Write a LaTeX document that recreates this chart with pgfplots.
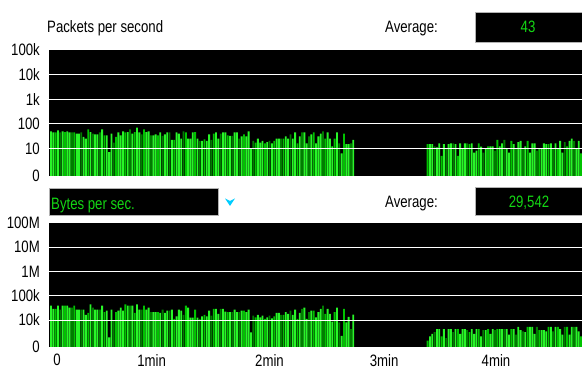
\documentclass[border=0pt]{standalone}
\usepackage{pgfplots}
\pgfplotsset{compat=1.18}
\usepackage{pgfplotstable}
\usepackage{fontspec}
\setmainfont{Liberation Sans}[FakeStretch=0.8]
\definecolor{gA}{RGB}{40,245,40}
\definecolor{gB}{RGB}{0,195,0}
\definecolor{gC}{RGB}{0,125,0}
\definecolor{txtg}{RGB}{20,215,20}
\definecolor{arrowc}{RGB}{0,205,255}
\newcommand{\lbl}{\fontsize{16.5}{18}\selectfont}
\pgfplotstableread{
i p b s
0 49 39600 1
1 45 28700 1
2 45 28700 2
3 54 39600 1
4 45 26900 3
5 49 39600 1
6 46 39600 2
7 49 39600 1
8 45 32600 1
9 45 32600 3
10 45 39600 2
11 40 26900 1
12 40 26900 1
13 45 26900 3
14 29 26900 1
15 25 16200 1
16 59 19600 2
17 46 43600 1
18 40 32600 3
19 37 26900 1
20 37 26900 1
21 45 26900 3
22 59 39600 1
23 34 20900 2
24 34 24500 1
25 7 1900 1
26 40 26900 1
27 17 9400 3
28 29 20900 2
29 45 24500 1
30 34 32600 1
31 49 24500 1
32 45 43600 2
33 46 39600 1
34 59 39600 3
35 40 39600 1
36 46 19600 2
37 69 43600 1
38 45 26900 1
39 37 26900 3
40 59 39600 2
41 46 26900 1
42 49 32600 1
43 34 20900 3
44 34 20900 1
45 37 20900 1
46 34 20900 2
47 45 19600 1
48 32 26900 3
49 37 19600 1
50 45 24500 1
51 45 24500 3
52 22 26900 1
53 22 11000 2
54 45 14200 1
55 40 26900 1
56 25 24500 1
57 49 16200 3
58 45 39600 2
59 25 32600 1
60 25 12500 1
61 45 12500 1
62 46 26900 2
63 25 12500 1
64 20 11000 3
65 20 14200 1
66 23 16200 2
67 20 14200 1
68 37 24500 1
69 22 15200 3
70 40 28700 2
71 45 28700 1
72 25 17800 1
73 40 28700 3
74 45 28700 1
75 45 22300 1
76 34 20900 2
77 32 20900 1
78 32 20900 3
79 45 26900 1
80 45 20900 1
81 25 20900 3
82 31 24500 1
83 37 24500 2
84 31 20900 1
85 49 26900 1
86 10 3060 1
87 20 15200 3
88 17 12900 2
89 25 16200 1
90 17 12900 1
91 20 15200 1
92 16 11000 2
93 18 12900 1
94 20 15200 3
95 16 11700 1
96 20 14200 2
97 25 19600 1
98 25 19600 1
99 25 16200 3
100 25 16200 2
101 31 20900 1
102 25 17800 1
103 37 24500 3
104 25 16200 1
105 45 26900 1
106 16 11000 2
107 31 19600 1
108 45 28700 3
109 45 32600 1
110 16 11000 1
111 31 20900 3
112 37 24500 1
113 45 24500 2
114 16 12900 1
115 31 20900 1
116 40 28700 1
117 49 39600 3
118 25 17800 2
119 45 28700 1
120 25 17800 1
121 12 8500 1
122 25 20900 2
123 45 32600 1
124 16 8000 3
125 6.3 2220 1
126 40 28700 2
127 15 8000 1
128 15 13300 1
129 16 4200 3
130 22 16800 1
162 15 1400 2
163 15 2100 1
164 15 2650 1
165 12 3200 3
166 11 4250 1
167 16 4250 1
168 4.9 2100 2
169 15 4250 1
170 10 1800 3
171 15 4250 1
172 16 4250 1
173 16 3200 3
174 15 4250 1
175 4.9 4250 2
176 16 2650 1
177 10 4250 1
178 16 4250 1
179 16 3850 3
180 15 3200 2
181 16 4250 1
182 6.7 2650 1
183 8.1 4250 1
184 16 4250 2
185 11.7 2100 1
186 6.7 3850 3
187 10 3850 1
188 12 4250 2
189 12 2650 1
190 12 4250 1
191 8.1 3850 3
192 22 4250 2
193 12 4250 1
194 16 4250 1
195 22 4250 3
196 10 4250 1
197 6.7 2500 1
198 20 4250 2
199 15 4250 1
200 10 2500 3
201 18 5200 1
202 20 3850 1
203 10 3400 3
204 12 3200 1
205 20 5200 2
206 6.7 5200 1
207 16 5200 1
208 16 2650 1
209 8.1 5200 3
210 10 3850 2
211 10 3850 1
212 16 3850 1
213 15 3400 1
214 15 5200 2
215 16 5200 1
216 10 3400 3
217 16 5200 1
218 10 5200 2
219 20 4250 1
220 6.7 2500 1
221 18 5200 3
222 12 5200 2
223 20 2500 1
224 25 5200 1
225 20 5200 3
226 10 5200 1
227 20 3400 1
228 6.3 2100 2
}\data
\begin{document}
\begin{tikzpicture}[x=1pt,y=1pt]
\useasboundingbox (0,0) rectangle (582,369);
% top panel
\begin{axis}[
  ymode=log,
  scale only axis, width=533pt, height=126pt,
  at={(49pt,193pt)}, anchor=south west,
  xmin=-0.86, xmax=228.4,
  ymin=0.75, ymax=1e5,
  axis background/.style={fill=black},
  axis line style={draw=none},
  tick style={draw=none},
  major grid style={white, line width=0.9pt},
  axis on top,
  log origin=infty,
  yticklabel style={font=\lbl, inner sep=0pt, xshift=-9pt},
  xtick=\empty,
  ytick={0.75,10,100,1000,10000,100000},
  yticklabels={0,10,100,1k,10k,100k},
  extra y ticks={10,100,1000,10000},
  extra y tick labels={,,,},
  extra y tick style={grid=major},
]
\addplot[ybar, bar width=0.8, bar shift=0pt, fill=gA, draw=none, restrict expr to domain={\thisrow{s}}{1:1}] table[x=i, y=p] {\data};
\addplot[ybar, bar width=0.8, bar shift=0pt, fill=gB, draw=none, restrict expr to domain={\thisrow{s}}{2:2}] table[x=i, y=p] {\data};
\addplot[ybar, bar width=0.8, bar shift=0pt, fill=gC, draw=none, restrict expr to domain={\thisrow{s}}{3:3}] table[x=i, y=p] {\data};
\end{axis}
% bottom panel
\begin{axis}[
  ymode=log,
  scale only axis, width=533pt, height=124pt,
  at={(49pt,22pt)}, anchor=south west,
  xmin=-0.86, xmax=228.4,
  ymin=771, ymax=1e8,
  axis background/.style={fill=black},
  axis line style={draw=none},
  tick style={draw=none},
  major grid style={white, line width=0.9pt},
  axis on top,
  log origin=infty,
  yticklabel style={font=\lbl, inner sep=0pt, xshift=-9pt},
  xticklabel style={font=\lbl, inner sep=0pt, yshift=-7pt},
  ytick={771,1e4,1e5,1e6,1e7,1e8},
  yticklabels={0,10k,100k,1M,10M,100M},
  extra y ticks={1e4,1e5,1e6,1e7},
  extra y tick labels={,,,},
  extra y tick style={grid=major},
  xtick={2.6,43.3,94,143.3,191.4},
  xticklabels={0,1min,2min,3min,4min},
]
\addplot[ybar, bar width=0.8, bar shift=0pt, fill=gA, draw=none, restrict expr to domain={\thisrow{s}}{1:1}] table[x=i, y=b] {\data};
\addplot[ybar, bar width=0.8, bar shift=0pt, fill=gB, draw=none, restrict expr to domain={\thisrow{s}}{2:2}] table[x=i, y=b] {\data};
\addplot[ybar, bar width=0.8, bar shift=0pt, fill=gC, draw=none, restrict expr to domain={\thisrow{s}}{3:3}] table[x=i, y=b] {\data};
\end{axis}
% header texts
\node[anchor=base west, inner sep=0pt, font=\lbl] at (47,336) {Packets per second};
\node[anchor=base west, inner sep=0pt, font=\lbl] at (385,336) {Average:};
\draw[gray!60, fill=black, line width=0.8pt] (475,327) rectangle (586,357);
\node[anchor=base, inner sep=0pt, font=\lbl, text=txtg] at (528,336) {43};
\draw[gray!60, fill=black, line width=0.8pt] (49,154) rectangle (218,181);
\node[anchor=base west, inner sep=0pt, font=\lbl, text=txtg] at (51,159.5) {Bytes per sec.};
\fill[arrowc] (225,170.5) -- (230,168) -- (235,170.5) -- (230,163) -- cycle;
\node[anchor=base west, inner sep=0pt, font=\lbl] at (385,161.5) {Average:};
\draw[gray!60, fill=black, line width=0.8pt] (475,154) rectangle (586,182);
\node[anchor=base, inner sep=0pt, font=\lbl, text=txtg] at (529,161.5) {29,542};
\end{tikzpicture}
\end{document}
